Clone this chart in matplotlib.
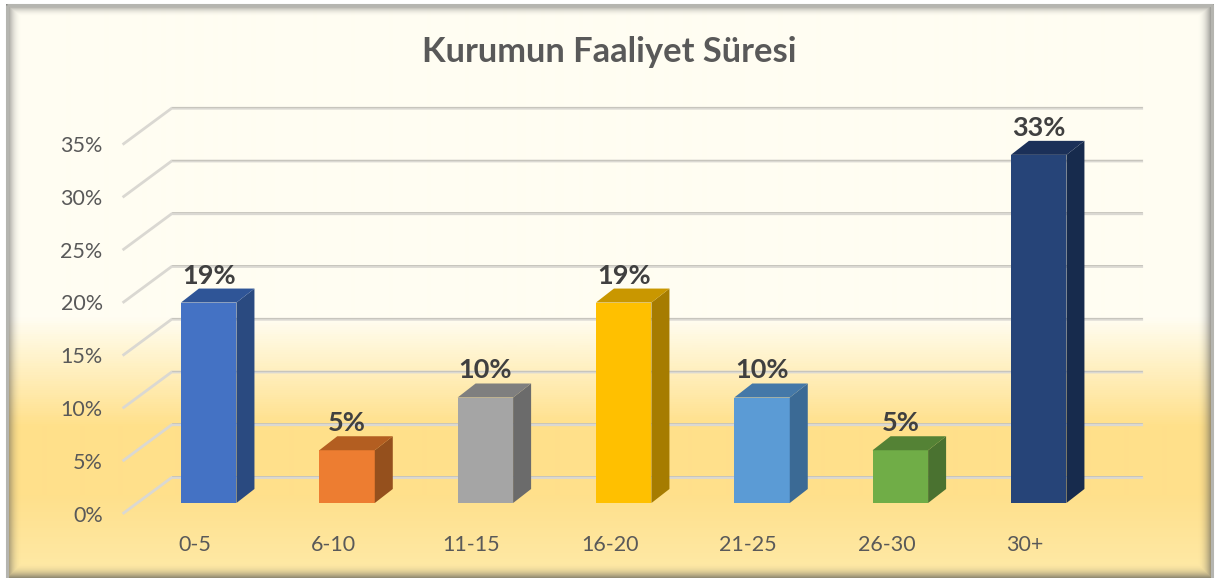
#!/usr/bin/env python3
import numpy as np

import matplotlib
matplotlib.use("Agg")
import matplotlib.pyplot as plt
from matplotlib.colors import LinearSegmentedColormap
from matplotlib.patches import Polygon

plt.rcParams["font.family"] = ["Lato", "DejaVu Sans"]

W, H = 1215, 578

title = "Kurumun Faaliyet Süresi"
categories = ["0-5", "6-10", "11-15", "16-20", "21-25", "26-30", "30+"]
values = [19, 5, 10, 19, 10, 5, 33]
bar_labels = ["19%", "5%", "10%", "19%", "10%", "5%", "33%"]
y_ticks = [0, 5, 10, 15, 20, 25, 30, 35]
y_tick_labels = ["0%", "5%", "10%", "15%", "20%", "25%", "30%", "35%"]

front_colors = ["#4472C4", "#ED7D31", "#A5A5A5", "#FFC000", "#5B9BD5", "#70AD47", "#264478"]
side_colors = ["#2A4A80", "#95501D", "#6B6B6B", "#A67C00", "#3B6A95", "#4A7230", "#172B4D"]
top_colors = ["#2F5597", "#B35E21", "#7F7F7F", "#C99700", "#4478A8", "#548235", "#1B3058"]

# scale of the plot in pixels
X0, X_STEP = 208.7, 138.33
Y0, Y_STEP = 503.0, 10.55


def dx(px):
    return px / X_STEP


def dy(px):
    return px / Y_STEP


fig = plt.figure(figsize=(W / 100, H / 100), dpi=100)

# background: vertical gradient plus the inner shadow of the frame
bg = fig.add_axes([0, 0, 1, 1], zorder=0)
bg.set_axis_off()
stops = [(0.0, "#FFFDF2"), (0.55, "#FFFDF2"), (0.60, "#FFF6D6"), (0.74, "#FFE08A"),
         (0.86, "#FFE08C"), (1.0, "#FEEAA8")]
cmap = LinearSegmentedColormap.from_list("panel", stops)
bg.imshow(np.linspace(0, 1, H)[:, None], cmap=cmap, vmin=0, vmax=1, aspect="auto",
          extent=[0, W, H, 0], interpolation="bilinear")

xx, yy = np.meshgrid(np.arange(W) + 0.5, np.arange(H) + 0.5)
left, right, top, bottom = 7, 1212, 5, 578
dist = np.minimum.reduce([(xx - left) / 15, (right - xx) / 15, (yy - top) / 12, (bottom - yy) / 15])
shade = np.zeros((H, W, 4))
shade[..., :3] = 0.33
shade[..., 3] = 0.68 * np.clip(1 - dist, 0, 1) ** 2.2
bg.imshow(shade, aspect="auto", extent=[0, W, H, 0], interpolation="bilinear")
bg.set_xlim(0, W)
bg.set_ylim(H, 0)
bg.plot([left, right, right], [top, top, H], color="#B5B5B0", lw=2.2, solid_capstyle="butt")
bg.plot([left, left], [top, H], color="#B5B5B0", lw=2.2, solid_capstyle="butt")
bg.fill_between([0, W], 0, 3.5, color="white", lw=0)
bg.fill_between([0, 5.5], 0, H, color="white", lw=0)
bg.fill_between([1213.5, W], 0, H, color="white", lw=0)

# chart axes: x in category positions, y in percent
ax = fig.add_axes([0, 0, 1, 1], zorder=1)
ax.patch.set_alpha(0)
ax.set_axis_off()
ax.set_xlim(-X0 / X_STEP, (W - X0) / X_STEP)
ax.set_ylim((Y0 - H) / Y_STEP, Y0 / Y_STEP)

BAR_W = dx(55.5)
floor_x = -dx(85)
back_x = dx(-37)
wall_end = dx(933)
back_up, front_down = dy(25.5), dy(10)

for t in y_ticks:
    xs = [floor_x, back_x, wall_end]
    ys = [t - front_down, t + back_up, t + back_up]
    ax.plot(xs, ys, color="#DAD8D2", lw=2.0, zorder=1, solid_joinstyle="miter")
    ax.plot(xs[1:], [t + back_up + dy(1.3)] * 2, color="#BFBDB5", lw=0.5, zorder=1)
    ax.text(floor_x - dx(21), t - front_down - dy(2.5), y_tick_labels[y_ticks.index(t)], ha="right",
            va="center", color="#595959", fontsize=15.5)

depth_x, depth_y = dx(18), dy(14)
for i, v in enumerate(values):
    x_l, x_r = i - BAR_W / 2, i + BAR_W / 2
    ax.bar(i, v, width=BAR_W, color=front_colors[i], zorder=3)
    ax.add_patch(Polygon([(x_r, 0), (x_r + depth_x, depth_y), (x_r + depth_x, v + depth_y), (x_r, v)],
                         closed=True, color=side_colors[i], lw=0, zorder=3))
    ax.add_patch(Polygon([(x_l, v), (x_l + depth_x, v + depth_y), (x_r + depth_x, v + depth_y), (x_r, v)],
                         closed=True, color=top_colors[i], lw=0, zorder=3))
    ax.text(i, v + dy(27), bar_labels[i], ha="center", va="center", color="#404040",
            fontsize=19.5, fontweight="bold", zorder=4)
    ax.text(i - dx(14), -dy(42), categories[i], ha="center", va="center", color="#595959",
            fontsize=15.5, zorder=4)

ax.text(dx(400.3), dy(451), title, ha="center", va="center", color="#595959", fontsize=24.8,
        fontweight="bold", zorder=4)

fig.savefig("out.png", dpi=100)
